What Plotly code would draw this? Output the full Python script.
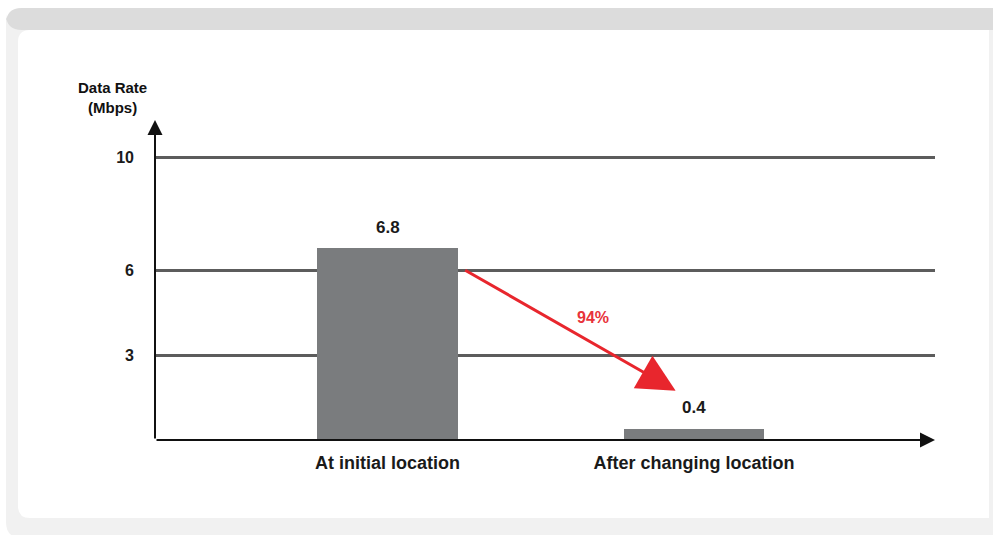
import plotly.graph_objects as go

# ---- data ----
categories = ["At initial location", "After changing location"]
values = [6.8, 0.4]
y_ticks = [3, 6, 10]
y_tick_labels = ["3", "6", "10"]
y_title = "Data Rate<br>(Mbps)"

W, H = 993, 535
ML, MR, MT, MB = 155, 58, 115, 95
PW, PH = W - ML - MR, H - MT - MB


def px(x):
    return (x - ML) / PW


def py(y):
    return (H - MB - y) / PH


def rrect(x0, y0, x1, y1, r):
    # rounded top-left / bottom-left corners, pixel input -> paper path
    return (f"M {px(x0 + r)} {py(y0)} L {px(x1)} {py(y0)} L {px(x1)} {py(y1)} "
            f"L {px(x0 + r)} {py(y1)} Q {px(x0)} {py(y1)} {px(x0)} {py(y1 - r)} "
            f"L {px(x0)} {py(y0 + r)} Q {px(x0)} {py(y0)} {px(x0 + r)} {py(y0)} Z")


BAR_COLOR = "#7a7c7e"
FONT = "Liberation Sans"
bw = 0.457

fig = go.Figure()
fig.add_trace(go.Bar(
    x=list(range(len(categories))), y=values, width=bw,
    marker=dict(color=BAR_COLOR, line=dict(width=0)),
    hoverinfo="skip", showlegend=False,
))

shapes = [
    dict(type="path", path=rrect(6, 8, 996, 538, 16), xref="paper", yref="paper",
         fillcolor="#f1f1f1", line=dict(width=0), layer="below"),
    dict(type="path", path=rrect(6, 8, 996, 30, 16), xref="paper", yref="paper",
         fillcolor="#dcdcdc", line=dict(width=0), layer="below"),
    dict(type="path", path=rrect(18, 30, 989, 518, 12), xref="paper", yref="paper",
         fillcolor="#ffffff", line=dict(width=0), layer="below"),
]

annotations = []
# value labels
for i, v in enumerate(values):
    annotations.append(dict(
        x=i, y=v, xref="x", yref="y", text=f"{v}", showarrow=False,
        yanchor="middle", yshift=21,
        font=dict(family=FONT, size=17, color="#1a1a1a", weight="bold"),
    ))

# axis arrows
annotations.append(dict(x=0, y=py(120), xref="paper", yref="paper",
                        ax=0, ay=(H - MB) - 120, axref="pixel", ayref="pixel",
                        showarrow=True, arrowhead=2, arrowsize=1.5, arrowwidth=2,
                        arrowcolor="#111111", text=""))
annotations.append(dict(x=1, y=0, xref="paper", yref="paper",
                        ax=-PW, ay=0, showarrow=True, arrowhead=2, arrowsize=1.5,
                        arrowwidth=2, arrowcolor="#111111", text=""))

# drop arrow
drop = round((1 - values[1] / values[0]) * 100)
annotations.append(dict(
    x=1 - 0.06, y=values[1] + 1.35, xref="x", yref="y",
    ax=0 + bw / 2 + 0.02, ay=values[0] - 0.75, axref="x", ayref="y",
    showarrow=True, arrowhead=2, arrowsize=2.5, arrowwidth=3, arrowcolor="#e8262d",
    text="",
))
annotations.append(dict(
    x=0.67, y=4.33, xref="x", yref="y", text=f"{drop}%", showarrow=False,
    font=dict(family=FONT, size=16, color="#e8333a", weight="bold"),
))

# y title
annotations.append(dict(
    x=px(112), y=py(98), xref="paper", yref="paper", text=y_title,
    xanchor="center", yanchor="middle",
    showarrow=False, align="center",
    font=dict(family=FONT, size=15, color="#111111", weight="bold"),
))

fig.update_layout(
    width=W, height=H,
    margin=dict(l=ML, r=MR, t=MT, b=MB, autoexpand=False),
    paper_bgcolor="#ffffff", plot_bgcolor="rgba(0,0,0,0)",
    shapes=shapes, annotations=annotations, bargap=0,
    xaxis=dict(
        range=[-0.7586, 1.786], tickvals=list(range(len(categories))),
        ticktext=categories, showgrid=False, zeroline=False, showline=False,
        ticks="", ticklabelstandoff=10,
        tickfont=dict(family=FONT, size=18, color="#1a1a1a", weight="bold"),
    ),
    yaxis=dict(
        range=[0, 11.52], tickvals=y_ticks, ticktext=y_tick_labels,
        showgrid=True, gridcolor="#5c5c5c", gridwidth=2.5, zeroline=False,
        showline=False, ticks="", ticklabelstandoff=20,
        tickfont=dict(family=FONT, size=16, color="#1a1a1a", weight="bold"),
    ),
)

fig.write_html("out.html")
